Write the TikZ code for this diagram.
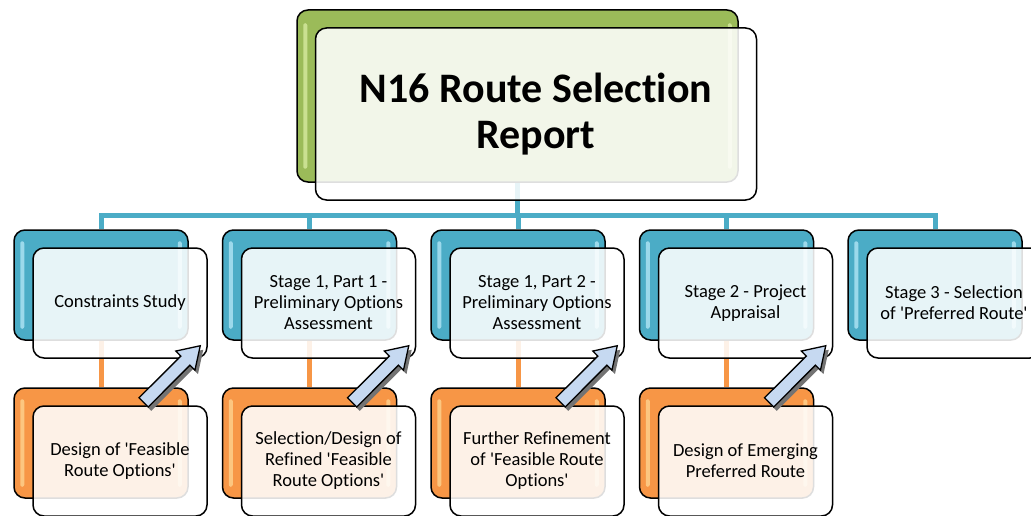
\documentclass[tikz,border=0pt]{standalone}
\usepackage{fontspec}
\setmainfont{Carlito}[Ligatures={TeXOff,NoCommon}]
\usetikzlibrary{calc}

\definecolor{gback}{HTML}{9BBB59}
\definecolor{bback}{HTML}{4BACC6}
\definecolor{oback}{HTML}{F79646}
\definecolor{arrfill}{HTML}{C6D9F1}
\definecolor{glossg}{HTML}{E4F5B0}
\definecolor{glossb}{HTML}{C8F2FF}
\definecolor{glosso}{HTML}{FFE0A0}

\tikzset{
  boxsize/.style={minimum width=174pt, minimum height=110pt, inner sep=0pt},
  backbox/.style={draw=black, line width=1.5pt, rounded corners=11pt},
  frontbox/.style={draw=black, line width=1.5pt, rounded corners=11pt,
    fill=white, fill opacity=0.87, text opacity=1, align=center,
    font=\fontsize{18.5}{21}\selectfont},
  titlesize/.style={minimum width=441pt, minimum height=172pt, inner sep=0pt},
  buscon/.style={draw=bback, line width=5pt},
  legcon/.style={draw=oback, line width=5pt},
  gloss/.style={opacity=0.65, rounded corners=2pt},
  blockarrow/.pic={
    \fill[black!55, shift={(3,4)}]
      (0,0) -- (-24.4,5.3) -- (-19.4,10.3) -- (-61.2,52.0) -- (-52.0,61.2)
      -- (-10.3,19.4) -- (-5.3,24.4) -- cycle;
    \draw[fill=arrfill, line width=1.3pt, line join=miter]
      (0,0) -- (-24.4,5.3) -- (-19.4,10.3) -- (-61.2,52.0) -- (-52.0,61.2)
      -- (-10.3,19.4) -- (-5.3,24.4) -- cycle;
  }
}

\begin{document}
\begin{tikzpicture}[x=1pt, y=-1pt]
\useasboundingbox (0,0) rectangle (1031,516);
\clip (0,0) rectangle (1031,516);

% ---- back panels ----
\node[backbox, titlesize, fill=gback] (tb) at (517.5,96) {};
\fill[glossg, gloss] ($(tb.north west)+(7,14)$) rectangle ($(tb.south west)+(11,-14)$);
\fill[glossg, gloss] ($(tb.north east)+(-11,14)$) rectangle ($(tb.south east)+(-7,-14)$);

\foreach \i/\x in {1/101, 2/309.5, 3/518, 4/726.5, 5/935} {
  \node[backbox, boxsize, fill=bback] (b\i) at (\x,285) {};
  \fill[glossb, gloss] ($(b\i.north west)+(7,12)$) rectangle ($(b\i.south west)+(11,-12)$);
  \fill[glossb, gloss] ($(b\i.north east)+(-11,12)$) rectangle ($(b\i.south east)+(-7,-12)$);
}
\foreach \i/\x in {1/101, 2/309.5, 3/518, 4/726.5} {
  \node[backbox, boxsize, fill=oback] (o\i) at (\x,443) {};
  \fill[glosso, gloss] ($(o\i.north west)+(7,12)$) rectangle ($(o\i.south west)+(11,-12)$);
  \fill[glosso, gloss] ($(o\i.north east)+(-11,12)$) rectangle ($(o\i.south east)+(-7,-12)$);
}

% ---- connectors ----
\coordinate (bus) at (0,215.5);
\draw[buscon] (tb.south) -- (tb.south |- bus);
\foreach \i in {1,...,5} {
  \draw[buscon] (tb.south |- bus) -| (b\i.north);
}
\foreach \i in {1,...,4} {
  \draw[legcon] (b\i.south) -- (o\i.north);
}

% ---- front panels ----
\node[frontbox, titlesize, font=\fontsize{42}{46}\selectfont\bfseries]
  (tf) at ($(tb.center)+(18.5,18)$) {N16 Route Selection\\Report};

\node[frontbox, boxsize] (c1) at ($(b1.center)+(19,18)$) {Constraints Study};
\node[frontbox, boxsize] (c2) at ($(b2.center)+(19,18)$) {Stage 1, Part 1 -\\Preliminary Options\\Assessment};
\node[frontbox, boxsize] (c3) at ($(b3.center)+(19,18)$) {Stage 1, Part 2 -\\Preliminary Options\\Assessment};
\node[frontbox, boxsize] (c4) at ($(b4.center)+(19,18)$) {Stage 2 - Project\\Appraisal};
\node[frontbox, boxsize] (c5) at ($(b5.center)+(19,18)$) {Stage 3 - Selection\\of 'Preferred Route'};

\node[frontbox, boxsize] (p1) at ($(o1.center)+(19,18)$) {Design of 'Feasible\\Route Options'};
\node[frontbox, boxsize] (p2) at ($(o2.center)+(19,18)$) {Selection/Design of\\Refined 'Feasible\\Route Options'};
\node[frontbox, boxsize] (p3) at ($(o3.center)+(19,18)$) {Further Refinement\\of 'Feasible Route\\Options'};
\node[frontbox, boxsize] (p4) at ($(o4.center)+(19,18)$) {Design of Emerging\\Preferred Route};

% ---- block arrows from each lower panel up to its stage ----
\foreach \i in {1,...,4} {
  \coordinate (t\i) at ($(c\i.south east)+(-7.5,-13)$);
  \pic at (t\i) {blockarrow};
}
\end{tikzpicture}
\end{document}
